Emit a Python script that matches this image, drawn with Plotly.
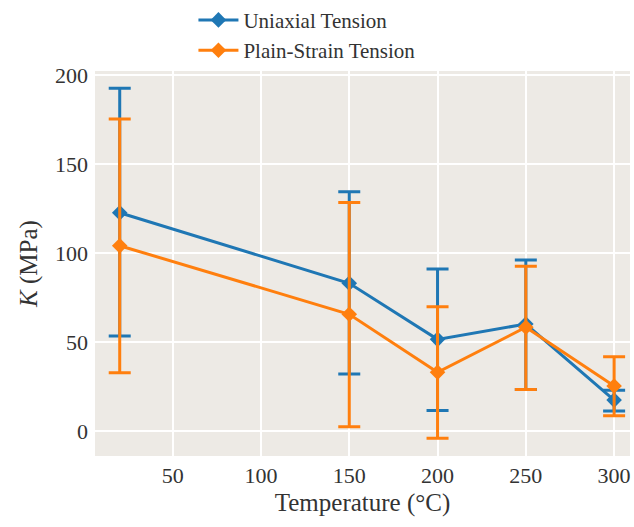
import plotly.graph_objects as go

temps = [20, 150, 200, 250, 300]
uni_k = [122.6, 83.0, 51.5, 60.1, 17.4]
uni_hi = [192.5, 134.4, 91.0, 96.1, 22.9]
uni_lo = [53.4, 32.0, 11.6, 23.4, 11.2]
ps_k = [104.1, 65.6, 33.0, 58.3, 25.3]
ps_hi = [175.3, 128.3, 69.8, 92.5, 41.7]
ps_lo = [32.8, 2.4, -4.1, 23.4, 8.6]

x_ticks = [50, 100, 150, 200, 250, 300]
y_ticks = [0, 50, 100, 150, 200]

blue = "#1f77b4"
orange = "#ff7f0e"

fig = go.Figure()
for name, k, hi, lo, col in [
    ("Uniaxial Tension", uni_k, uni_hi, uni_lo, blue),
    ("Plain-Strain Tension", ps_k, ps_hi, ps_lo, orange),
]:
    fig.add_trace(go.Scatter(
        x=temps, y=k, name=name, mode="lines+markers",
        line=dict(color=col, width=3),
        marker=dict(symbol="diamond", size=12, color=col),
        error_y=dict(type="data", symmetric=False,
                     array=[h - v for h, v in zip(hi, k)],
                     arrayminus=[v - l for v, l in zip(k, lo)],
                     color=col, thickness=3, width=11),
    ))

fig.update_layout(
    width=634, height=527,
    margin=dict(l=95, r=4, t=71, b=71, autoexpand=False),
    paper_bgcolor="white", plot_bgcolor="#EDEAE5",
    font=dict(family="Liberation Serif, DejaVu Serif, serif", size=21, color="#333333"),
    showlegend=True,
    legend=dict(x=0.184, xanchor="left", y=1.185, yanchor="top",
                bgcolor="rgba(0,0,0,0)", font=dict(size=21, color="#333333"),
                tracegroupgap=0, itemwidth=40),
    xaxis=dict(range=[6, 309], tickvals=x_ticks, showgrid=True, gridcolor="white",
               gridwidth=1.5, zeroline=False, showline=False, ticks="",
               ticklabelstandoff=4,
               tickfont=dict(size=22), title=dict(text="Temperature (°C)", font=dict(size=25), standoff=6)),
    yaxis=dict(range=[-14, 202.2], tickvals=y_ticks, showgrid=True, gridcolor="white",
               gridwidth=1.5, zeroline=False, showline=False, ticks="",
               ticklabelstandoff=6,
               tickfont=dict(size=22), title=dict(text="<i>K</i> (MPa)", font=dict(size=25), standoff=10)),
)

fig.write_html("out.html")
